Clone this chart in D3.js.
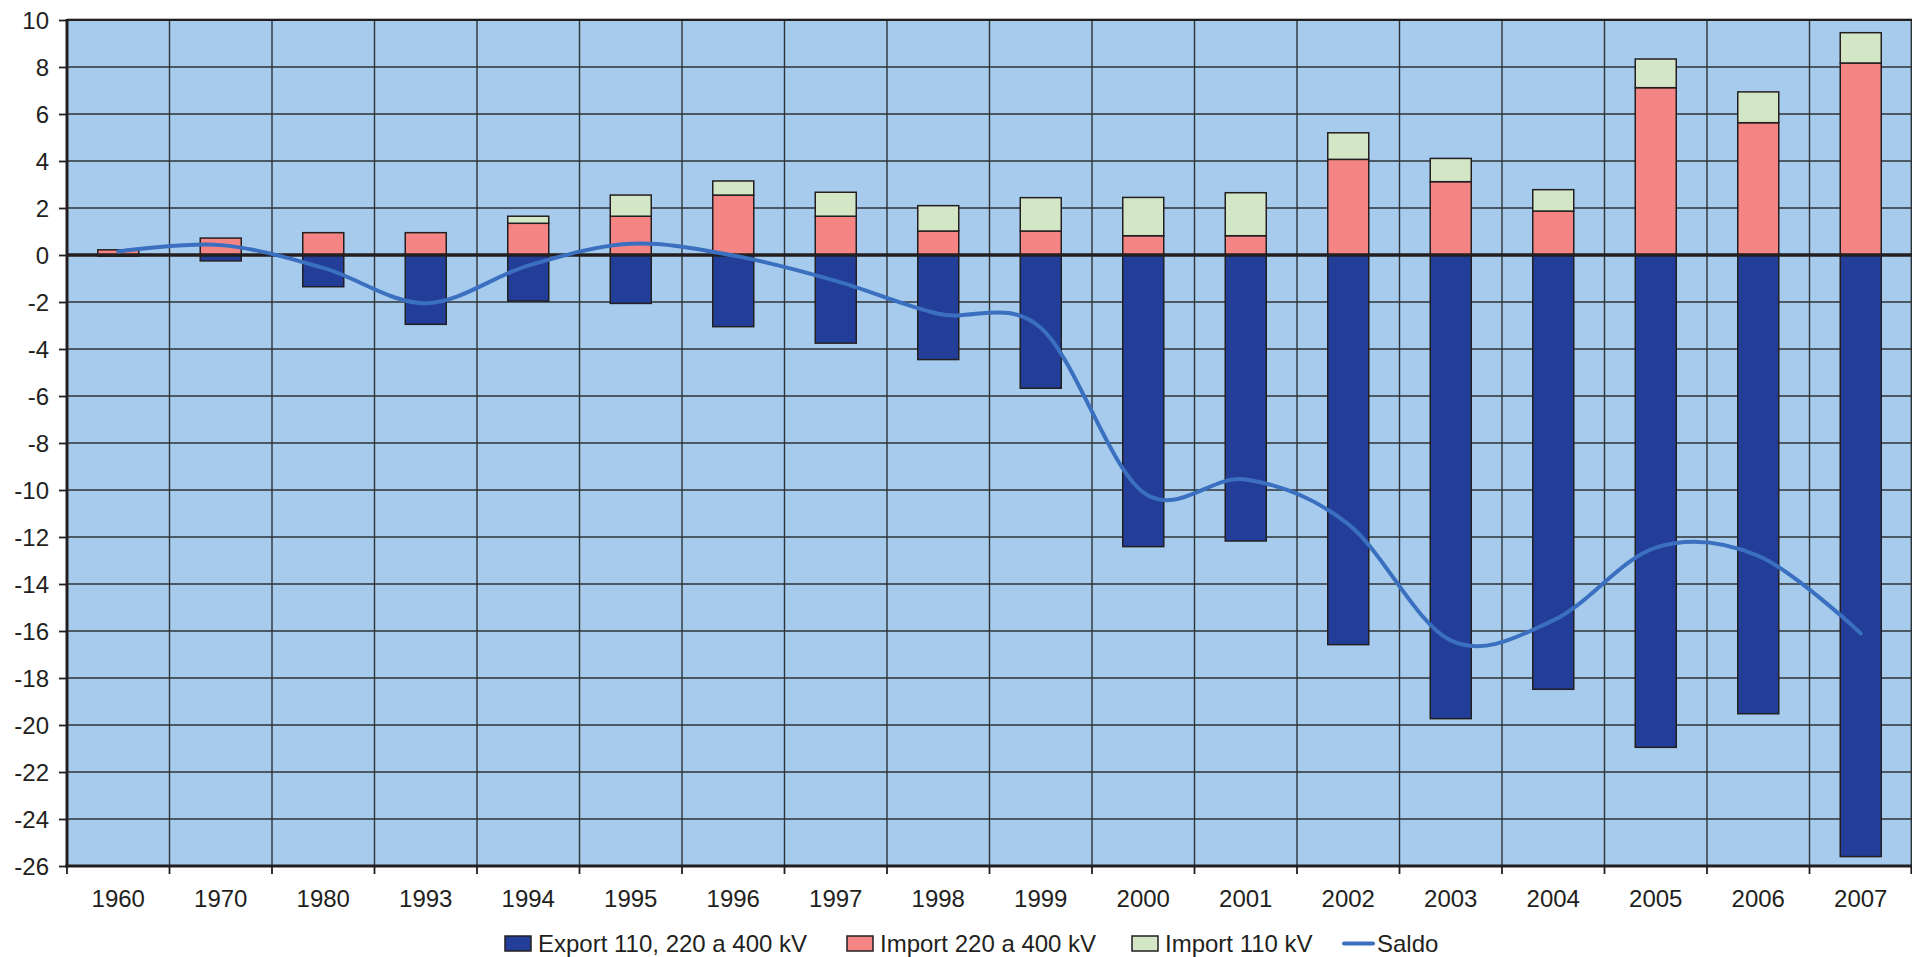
<!DOCTYPE html>
<html>
<head>
<meta charset="utf-8">
<script src="https://cdn.jsdelivr.net/npm/d3@7"></script>
<style>
  html, body { margin: 0; padding: 0; background: #ffffff; }
  svg { display: block; }
  text { font-family: "Liberation Sans", Arial, sans-serif; fill: #231F20; }
</style>
</head>
<body>
<svg id="chart" width="1912" height="957"></svg>
<script>
// ---- data ----
const categories = ["1960","1970","1980","1993","1994","1995","1996","1997","1998","1999","2000","2001","2002","2003","2004","2005","2006","2007"];
const exportVals  = [-0.05,-0.25,-1.35,-2.95,-1.96,-2.06,-3.05,-3.75,-4.45,-5.67,-12.41,-12.17,-16.58,-19.73,-18.48,-20.95,-19.52,-25.6];
const import220   = [0.22,0.72,0.95,0.95,1.35,1.65,2.55,1.65,1.02,1.02,0.82,0.82,4.07,3.12,1.87,7.12,5.63,8.17];
const import110   = [0,0,0,0,0.3,0.9,0.6,1.02,1.08,1.42,1.63,1.83,1.13,0.99,0.91,1.22,1.31,1.29];
const saldo       = [0.15,0.42,-0.55,-2.05,-0.45,0.48,-0.02,-1.1,-2.5,-3.1,-10.1,-9.55,-11.45,-16.4,-15.55,-12.45,-12.8,-16.1];
const yTickValues = [10,8,6,4,2,0,-2,-4,-6,-8,-10,-12,-14,-16,-18,-20,-22,-24,-26];
const seriesNames = ["Export 110, 220 a 400 kV","Import 220 a 400 kV","Import 110 kV","Saldo"];

// ---- layout ----
const pL = 67, pR = 1912, pT = 20, pB = 866;
const colors = { exp: "#233E99", i220: "#F48584", i110: "#D3E7C6", saldo: "#3B6FBF", bg: "#A6CBEC", grid: "#2E3338", ink: "#231F20" };

const svg = d3.select("#chart");

const x = d3.scaleBand().domain(categories).range([pL, pR]).paddingInner(0.6).paddingOuter(0.3).align(0.5);
const y = d3.scaleLinear().domain([-26, 10]).range([pB, pT]);
const step = x.step();
const boundary = c => x(c) - (step - x.bandwidth()) / 2;

// plot background
svg.append("rect").attr("x", pL).attr("y", pT).attr("width", pR - pL).attr("height", pB - pT).attr("fill", colors.bg);

// horizontal gridlines
svg.append("g").selectAll("line").data(yTickValues).join("line")
  .attr("x1", pL).attr("x2", pR)
  .attr("y1", d => y(d)).attr("y2", d => y(d))
  .attr("stroke", colors.grid).attr("stroke-width", 1.4);

// vertical gridlines at category boundaries
const bounds = categories.slice(1).map(boundary).concat([pR - 0.7]);
svg.append("g").selectAll("line").data(bounds).join("line")
  .attr("x1", d => d).attr("x2", d => d)
  .attr("y1", pT).attr("y2", pB)
  .attr("stroke", colors.grid).attr("stroke-width", 1.4);

// top border
svg.append("line").attr("x1", pL).attr("x2", pR).attr("y1", pT - 1.5).attr("y2", pT - 1.5).attr("stroke", "#bdbdbd").attr("stroke-width", 1);
svg.append("line").attr("x1", pL).attr("x2", pR).attr("y1", pT).attr("y2", pT).attr("stroke", colors.ink).attr("stroke-width", 2);

// stacked bars
const table = categories.map((c, i) => ({ cat: c, exp: exportVals[i], i220: import220[i], i110: import110[i] }));
const stack = d3.stack().keys(["exp", "i220", "i110"]).offset(d3.stackOffsetDiverging);
const layers = stack(table);
svg.append("g").selectAll("g").data(layers).join("g")
  .attr("fill", d => colors[d.key])
  .selectAll("rect").data(d => d).join("rect")
  .attr("x", d => x(d.data.cat))
  .attr("width", x.bandwidth())
  .attr("y", d => y(Math.max(d[0], d[1])))
  .attr("height", d => Math.abs(y(d[0]) - y(d[1])))
  .attr("stroke", d => Math.abs(d[1] - d[0]) > 0.001 ? colors.ink : "none")
  .attr("stroke-width", 1.5);

// zero line
svg.append("line").attr("x1", pL).attr("x2", pR).attr("y1", y(0)).attr("y2", y(0))
  .attr("stroke", colors.ink).attr("stroke-width", 3.5);

// saldo line
const line = d3.line()
  .x((d, i) => x(categories[i]) + x.bandwidth() / 2)
  .y(d => y(d))
  .curve(d3.curveCardinal.tension(0));
svg.append("path").datum(saldo).attr("d", line)
  .attr("fill", "none").attr("stroke", colors.saldo).attr("stroke-width", 4).attr("stroke-linecap", "round");

// y axis
const yAxis = d3.axisLeft(y).tickValues(yTickValues).tickFormat(d => String(d)).tickSize(8).tickPadding(10);
const gy = svg.append("g").attr("transform", `translate(${pL},0)`).call(yAxis);
gy.select(".domain").remove();
gy.selectAll(".tick line").attr("stroke", colors.ink).attr("stroke-width", 1.8);
gy.selectAll(".tick text").attr("font-size", 24).attr("font-family", "Liberation Sans, Arial, sans-serif").attr("fill", colors.ink).attr("dy", "0.36em");
svg.append("line").attr("x1", pL).attr("x2", pL).attr("y1", pT - 1).attr("y2", pB + 1.5)
  .attr("stroke", colors.ink).attr("stroke-width", 3);

// x axis
const xAxis = d3.axisBottom(x).tickSize(0).tickPadding(0);
const gx = svg.append("g").attr("transform", `translate(0,${pB})`).call(xAxis);
gx.select(".domain").remove();
gx.selectAll(".tick text").attr("font-size", 24).attr("font-family", "Liberation Sans, Arial, sans-serif").attr("fill", colors.ink).attr("dy", null).attr("y", 41);
svg.append("g").selectAll("line").data(categories.map(boundary).concat([pR - 0.7])).join("line")
  .attr("x1", d => d).attr("x2", d => d).attr("y1", pB).attr("y2", pB + 8)
  .attr("stroke", colors.ink).attr("stroke-width", 1.8);
svg.append("line").attr("x1", pL - 1.5).attr("x2", pR).attr("y1", pB).attr("y2", pB)
  .attr("stroke", colors.ink).attr("stroke-width", 3);

// legend
const legendX = [505, 847, 1132, 1344];
const legendFill = [colors.exp, colors.i220, colors.i110, null];
const lg = svg.append("g").attr("transform", "translate(0,943.5)");
const items = lg.selectAll("g").data(seriesNames).join("g").attr("transform", (d, i) => `translate(${legendX[i]},0)`);
items.each(function(d, i) {
  const g = d3.select(this);
  if (legendFill[i]) {
    g.append("rect").attr("x", 0).attr("y", -7.5).attr("width", 26).attr("height", 15)
      .attr("fill", legendFill[i]).attr("stroke", colors.ink).attr("stroke-width", 1.5);
  } else {
    g.append("line").attr("x1", 0).attr("x2", 29).attr("y1", 0).attr("y2", 0)
      .attr("stroke", colors.saldo).attr("stroke-width", 4).attr("stroke-linecap", "round");
  }
  g.append("text").attr("x", 33).attr("y", 8).attr("font-size", 24).text(d);
});
</script>
</body>
</html>
